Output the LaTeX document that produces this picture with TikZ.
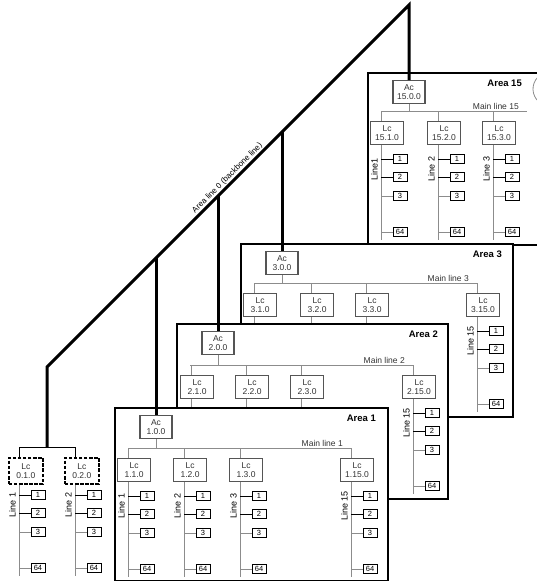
\documentclass[tikz,border=0pt]{standalone}
\usepackage{fontspec}
\setmainfont{Liberation Sans}
\definecolor{linegray}{HTML}{8C8C8C}
\definecolor{boxgray}{HTML}{555555}
\definecolor{txtgray}{HTML}{333333}
\tikzset{
  mline/.style={draw=linegray, line width=0.9pt},
  dropline/.style={mline},
  tickdark/.style={draw=black, line width=0.9pt},
  frame/.style={draw=black, fill=white, line width=2.2pt, inner sep=0pt},
  acbox/.style={draw=boxgray, fill=white, line width=1.1pt, minimum width=32pt, minimum height=23pt, inner sep=0pt, align=center, font=\fontsize{8.5}{9.3}\selectfont, text=txtgray},
  lcbox/.style={acbox, minimum width=33pt},
  dashbox/.style={draw=black, fill=white, dashed, dash pattern=on 3.5pt off 1.6pt, line width=1.6pt, minimum width=34pt, minimum height=26pt, inner sep=0pt, align=center, font=\fontsize{8.5}{9.3}\selectfont, text=txtgray},
  dev/.style={draw=black, fill=white, line width=1pt, minimum width=14pt, minimum height=9pt, inner sep=0pt, font=\fontsize{7.5}{7.5}\selectfont},
  linelbl/.style={rotate=90, font=\fontsize{9}{9}\selectfont, inner sep=0pt},
  mllbl/.style={font=\fontsize{8.5}{8.5}\selectfont, text=txtgray, inner sep=1pt, anchor=south east},
  arealbl/.style={font=\bfseries\fontsize{9.5}{9.5}\selectfont, anchor=east, inner sep=0pt},
  backbone/.style={draw=black, line width=3pt, line join=miter},
}
% column stub: id, bus x, main line y, address, box style
\newcommand\lcstub[5]{%
  \coordinate (#1top) at (#2,#3);
  \node[#5, anchor=north west] (#1lc) at (#2-11,#3+10) {Lc\\#4};
  \coordinate (#1end) at (#2,#3+129);
  \draw[dropline] (#1top) -- (#1top |- #1lc.north);
  \draw[mline] (#1top |- #1lc.south) -- (#1end);
}
% full column: + line label
\newcommand\lcfull[6]{%
  \lcstub{#1}{#2}{#3}{#4}{#5}
  \node[dev] (#1da) at (#2+19,#3+48) {1};
  \node[dev] (#1db) at (#2+19,#3+66) {2};
  \node[dev] (#1dc) at (#2+19,#3+85) {3};
  \node[dev] (#1dd) at (#2+19,#3+121) {64};
  \draw[tickdark] (#1top |- #1da) -- (#1da);
  \draw[tickdark] (#1top |- #1db) -- (#1db);
  \draw[mline] (#1top |- #1dc) -- (#1dc);
  \draw[mline] (#1top |- #1dd) -- (#1dd);
  \node[linelbl] (#1lab) at (#2-6.5,#3+58) {#6};
}
% area: id, L, top, ML, number, width, height, main line right x, area label right x
\newcommand\areablock[9]{%
  \node[frame, anchor=north west, minimum width=#6pt, minimum height=#7pt] (#1f) at (#2,#3) {};
  \node[acbox, anchor=north] (#1ac) at (#2+42,#3+8) {Ac\\#5.0.0};
  \coordinate (#1acml) at (#2+42,#4);
  \coordinate (#1mlL) at (#2+14,#4);
  \coordinate (#1mlR) at (#8,#4);
  \draw[mline] (#1ac) -- (#1acml);
  \draw[mline] (#1mlL) -- (#1mlR);
  \node[mllbl] (#1mll) at (#8-7,#4) {Main line #5};
  \node[arealbl] (#1al) at (#9,#3+11) {Area #5};
}
\begin{document}
\begin{tikzpicture}[x=1pt,y=-1pt]
\useasboundingbox (0,0) rectangle (537,581);
\clip (0,0) rectangle (537,581);
\fill[white] (0,0) rectangle (537,581);

% Area 15
\areablock{a15}{367}{72}{111}{15}{210}{172}{527}{522}
\lcfull{a15c1}{381}{111}{15.1.0}{lcbox}{Line1}
\lcfull{a15c2}{438}{111}{15.2.0}{lcbox}{Line 2}
\lcfull{a15c3}{493}{111}{15.3.0}{lcbox}{Line 3}

% Area 3
\areablock{a3}{240}{243}{283}{3}{272}{173}{477}{502}
\lcstub{a3c1}{254}{283}{3.1.0}{lcbox}
\lcstub{a3c2}{311}{283}{3.2.0}{lcbox}
\lcstub{a3c3}{366}{283}{3.3.0}{lcbox}
\lcfull{a3c4}{477}{283}{3.15.0}{lcbox}{Line 15}

% Area 2
\areablock{a2}{176}{323}{365}{2}{271}{175}{413}{438}
\lcstub{a2c1}{191}{365}{2.1.0}{lcbox}
\lcstub{a2c2}{246}{365}{2.2.0}{lcbox}
\lcstub{a2c3}{301}{365}{2.3.0}{lcbox}
\lcfull{a2c4}{413}{365}{2.15.0}{lcbox}{Line 15}

% Area 1
\areablock{a1}{114}{407}{448}{1}{273}{173}{351}{376}
\lcfull{a1c1}{128}{448}{1.1.0}{lcbox}{Line 1}
\lcfull{a1c2}{184}{448}{1.2.0}{lcbox}{Line 2}
\lcfull{a1c3}{240}{448}{1.3.0}{lcbox}{Line 3}
\lcfull{a1c4}{351}{448}{1.15.0}{lcbox}{Line 15}

% Area 0 line couplers
\begin{scope}[dropline/.style={draw=black, line width=0.9pt}]
\coordinate (g0a) at (19,447);
\coordinate (g0b) at (75,447);
\draw[draw=black, line width=0.9pt] (g0a) -- (g0b);
\lcfull{g0c1}{19}{447}{0.1.0}{dashbox}{Line 1}
\lcfull{g0c2}{75}{447}{0.2.0}{dashbox}{Line 2}
\end{scope}

% backbone
\coordinate (bbL) at (47,447);
\coordinate (bbK) at (47,367);
\coordinate (bbT) at (409,5);
\coordinate (j1) at (156,258);
\coordinate (j2) at (218,196);
\coordinate (j3) at (282,132);
\draw[backbone] (bbL) -- (bbK) -- (bbT) -- (bbT |- a15ac.north);
\draw[backbone] (j1) -- (j1 |- a1ac.north);
\draw[backbone] (j2) -- (j2 |- a2ac.north);
\draw[backbone] (j3) -- (j3 |- a3ac.north);
\path (bbK) -- (bbT) node[pos=0.51, sloped, above, inner sep=2pt, font=\fontsize{8}{8}\selectfont] (bblbl) {Area line 0 (backbone line)};

% partial round element at right edge
\draw[linegray, line width=0.8pt] (550,89) ++(110:17) arc[start angle=110, end angle=250, radius=17];
\end{tikzpicture}
\end{document}
